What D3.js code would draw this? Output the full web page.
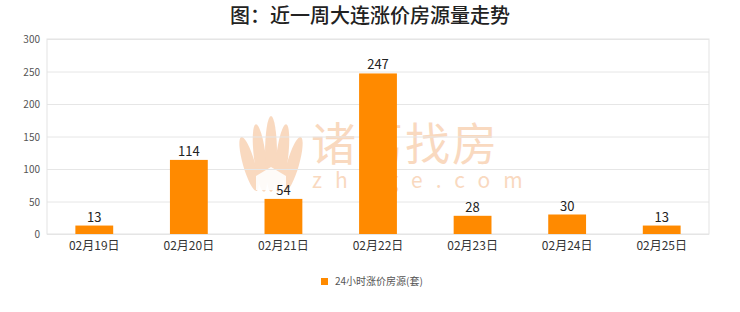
<!DOCTYPE html>
<html>
<head>
<meta charset="utf-8">
<script src="https://cdn.jsdelivr.net/npm/d3@7/dist/d3.min.js"></script>
<style>
  body { margin: 0; background: #fff; }
  svg text { font-family: "Noto Sans CJK SC", "DejaVu Sans", sans-serif; }
  .grid line { stroke: #e6e6e6; }
  .grid path { display: none; }
</style>
</head>
<body>
<svg id="chart"></svg>
<script>
// data
var days = ["02月19日", "02月20日", "02月21日", "02月22日", "02月23日", "02月24日", "02月25日"];
var counts = [13, 114, 54, 247, 28, 30, 13];
var yTicks = [0, 50, 100, 150, 200, 250, 300];
var seriesName = "24小时涨价房源(套)";

var W = 740, H = 312;
var plotL = 47, plotR = 709, plotT = 39, plotB = 234;

var svg = d3.select("#chart").attr("width", W).attr("height", H);

svg.append("text")
    .attr("x", 370).attr("y", 23)
    .attr("text-anchor", "middle")
    .style("font-size", "20px")
    .style("font-weight", "500")
    .style("fill", "#222")
    .text("图：近一周大连涨价房源量走势");

var x = d3.scaleBand().domain(days).range([plotL, plotR]).paddingInner(0.6).paddingOuter(0.3);
var y = d3.scaleLinear().domain([0, 300]).range([plotB, plotT]);

// watermark (behind the grid)
var wm = svg.append("g").attr("opacity", 0.32).attr("fill", "#ee8a3c");
var petals = [[-22, 14, 6, 28, -16], [-11, 8, 6, 34, -7], [0, 4, 6, 38, 0], [11, 8, 6, 34, 7], [22, 14, 6, 28, 16]];
petals.forEach(function (p) {
    wm.append("ellipse")
        .attr("cx", 271 + p[0]).attr("cy", 150 + p[1])
        .attr("rx", p[2]).attr("ry", p[3])
        .attr("transform", "rotate(" + p[4] + "," + (271 + p[0]) + "," + (150 + p[1]) + ")");
});
wm.append("path")
    .attr("d", "M256,176 L271,167 L286,176 L286,190 L256,190 Z")
    .attr("fill", "#fff").attr("opacity", 0.9);
wm.append("text")
    .attr("x", 311).attr("y", 161)
    .style("font-size", "45px")
    .style("letter-spacing", "2px")
    .text("诸葛找房");
wm.append("text")
    .attr("x", 312).attr("y", 188)
    .style("font-size", "21px")
    .style("letter-spacing", "13px")
    .text("zhuge.com");

// gridlines
svg.append("g")
    .attr("class", "grid")
    .attr("transform", "translate(" + plotL + ",0)")
    .call(d3.axisLeft(y).tickValues(yTicks).tickSize(-(plotR - plotL)).tickFormat(""));

// frame
svg.append("rect")
    .attr("x", plotL).attr("y", plotT)
    .attr("width", plotR - plotL).attr("height", plotB - plotT)
    .attr("fill", "none").attr("stroke", "#e3e3e3");

// bars
svg.append("g").selectAll("rect")
    .data(counts)
    .join("rect")
    .attr("x", function (d, i) { return x(days[i]); })
    .attr("y", function (d) { return y(d); })
    .attr("width", x.bandwidth())
    .attr("height", function (d) { return plotB - y(d); })
    .attr("fill", "#ff8a00");

svg.append("g").selectAll("text")
    .data(counts)
    .join("text")
    .attr("x", function (d, i) { return x(days[i]) + x.bandwidth() / 2; })
    .attr("y", function (d) { return y(d) - 4; })
    .attr("text-anchor", "middle")
    .style("font-size", "13px")
    .style("fill", "#222")
    .text(function (d) { return d; });

// y axis labels
svg.append("g").selectAll("text")
    .data(yTicks)
    .join("text")
    .attr("x", 40)
    .attr("y", function (d) { return y(d) + 4; })
    .attr("text-anchor", "end")
    .style("font-size", "10px")
    .style("fill", "#555")
    .text(function (d) { return d; });

// x axis labels
svg.append("g").selectAll("text")
    .data(days)
    .join("text")
    .attr("x", function (d) { return x(d) + x.bandwidth() / 2; })
    .attr("y", 250)
    .attr("text-anchor", "middle")
    .style("font-size", "12px")
    .style("fill", "#333")
    .text(function (d) { return d; });

// legend
svg.append("rect")
    .attr("x", 321).attr("y", 278).attr("width", 7).attr("height", 7)
    .attr("fill", "#ff8a00");
svg.append("text")
    .attr("x", 335).attr("y", 285)
    .style("font-size", "10px")
    .style("fill", "#555")
    .text(seriesName);
</script>
</body>
</html>
